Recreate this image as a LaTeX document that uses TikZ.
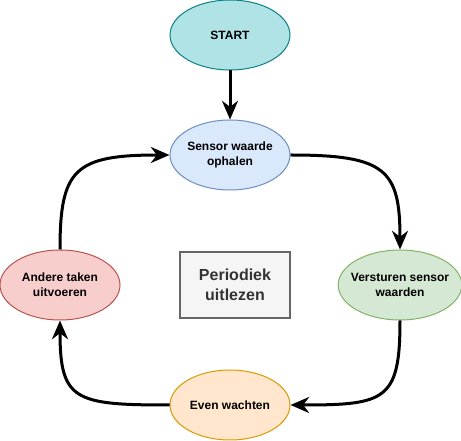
\documentclass[tikz,border=0pt]{standalone}
\usepackage{fontspec}
\setmainfont{Liberation Sans}
\usetikzlibrary{shapes.geometric,arrows.meta}

\tikzset{every picture/.style={line width=0.75pt}}
\tikzset{
  state/.style={ellipse, draw, line width=0.75pt, minimum width=90pt, minimum height=52.5pt,
    inner xsep=-4pt, inner ysep=0pt, align=center, font=\fontsize{9}{11}\selectfont\bfseries},
  flow/.style={line width=2.25pt, -{Stealth[length=14pt, width=12pt, inset=4.5pt]}}
}

\begin{document}
\begin{tikzpicture}[x=0.75pt,y=0.75pt,yscale=-1,xscale=1]
    \useasboundingbox (0,0) rectangle (461,441);

    %Shape: Ellipse
    \node [state, fill={rgb, 255:red, 176; green, 227; blue, 230 }, draw={rgb, 255:red, 14; green, 128; blue, 136 }] (start) at (230,35) {START};
    %Shape: Ellipse
    \node [state, fill={rgb, 255:red, 218; green, 232; blue, 252 }, draw={rgb, 255:red, 108; green, 142; blue, 191 }] (ophalen) at (230,155) {Sensor waarde\\ophalen};
    %Shape: Ellipse
    \node [state, fill={rgb, 255:red, 213; green, 232; blue, 212 }, draw={rgb, 255:red, 130; green, 179; blue, 102 }] (versturen) at (400,285) {Versturen sensor\\waarden};
    %Shape: Ellipse
    \node [state, fill={rgb, 255:red, 255; green, 230; blue, 204 }, draw={rgb, 255:red, 215; green, 155; blue, 0 }] (wachten) at (230,405) {Even wachten};
    %Shape: Ellipse
    \node [state, fill={rgb, 255:red, 248; green, 206; blue, 204 }, draw={rgb, 255:red, 184; green, 84; blue, 80 }] (andere) at (60,285) {Andere taken\\uitvoeren};

    %Shape: Rectangle
    \node [draw={rgb, 255:red, 102; green, 102; blue, 102 }, fill={rgb, 255:red, 245; green, 245; blue, 245 }, line width=1.5pt,
      minimum width=82.5pt, minimum height=49.5pt, inner sep=0pt, align=center,
      text={rgb, 255:red, 51; green, 51; blue, 51 }, font=\fontsize{12}{15}\selectfont\bfseries] (periodiek) at (235,285) {Periodiek\\uitlezen};

    %Straight Lines
    \draw [flow] (start) -- (ophalen) ;
    %Curve Lines
    \draw [flow] (ophalen.east) .. controls +(95,0) and +(0,-80) .. (versturen.north) ;
    %Curve Lines
    \draw [flow] (versturen.south) .. controls +(0,80) and +(95,0) .. (wachten.east) ;
    %Curve Lines
    \draw [flow] (wachten.west) .. controls +(-95,0) and +(0,80) .. (andere.south) ;
    %Curve Lines
    \draw [flow] (andere.north) .. controls +(0,-80) and +(-95,0) .. (ophalen.west) ;

\end{tikzpicture}
\end{document}
